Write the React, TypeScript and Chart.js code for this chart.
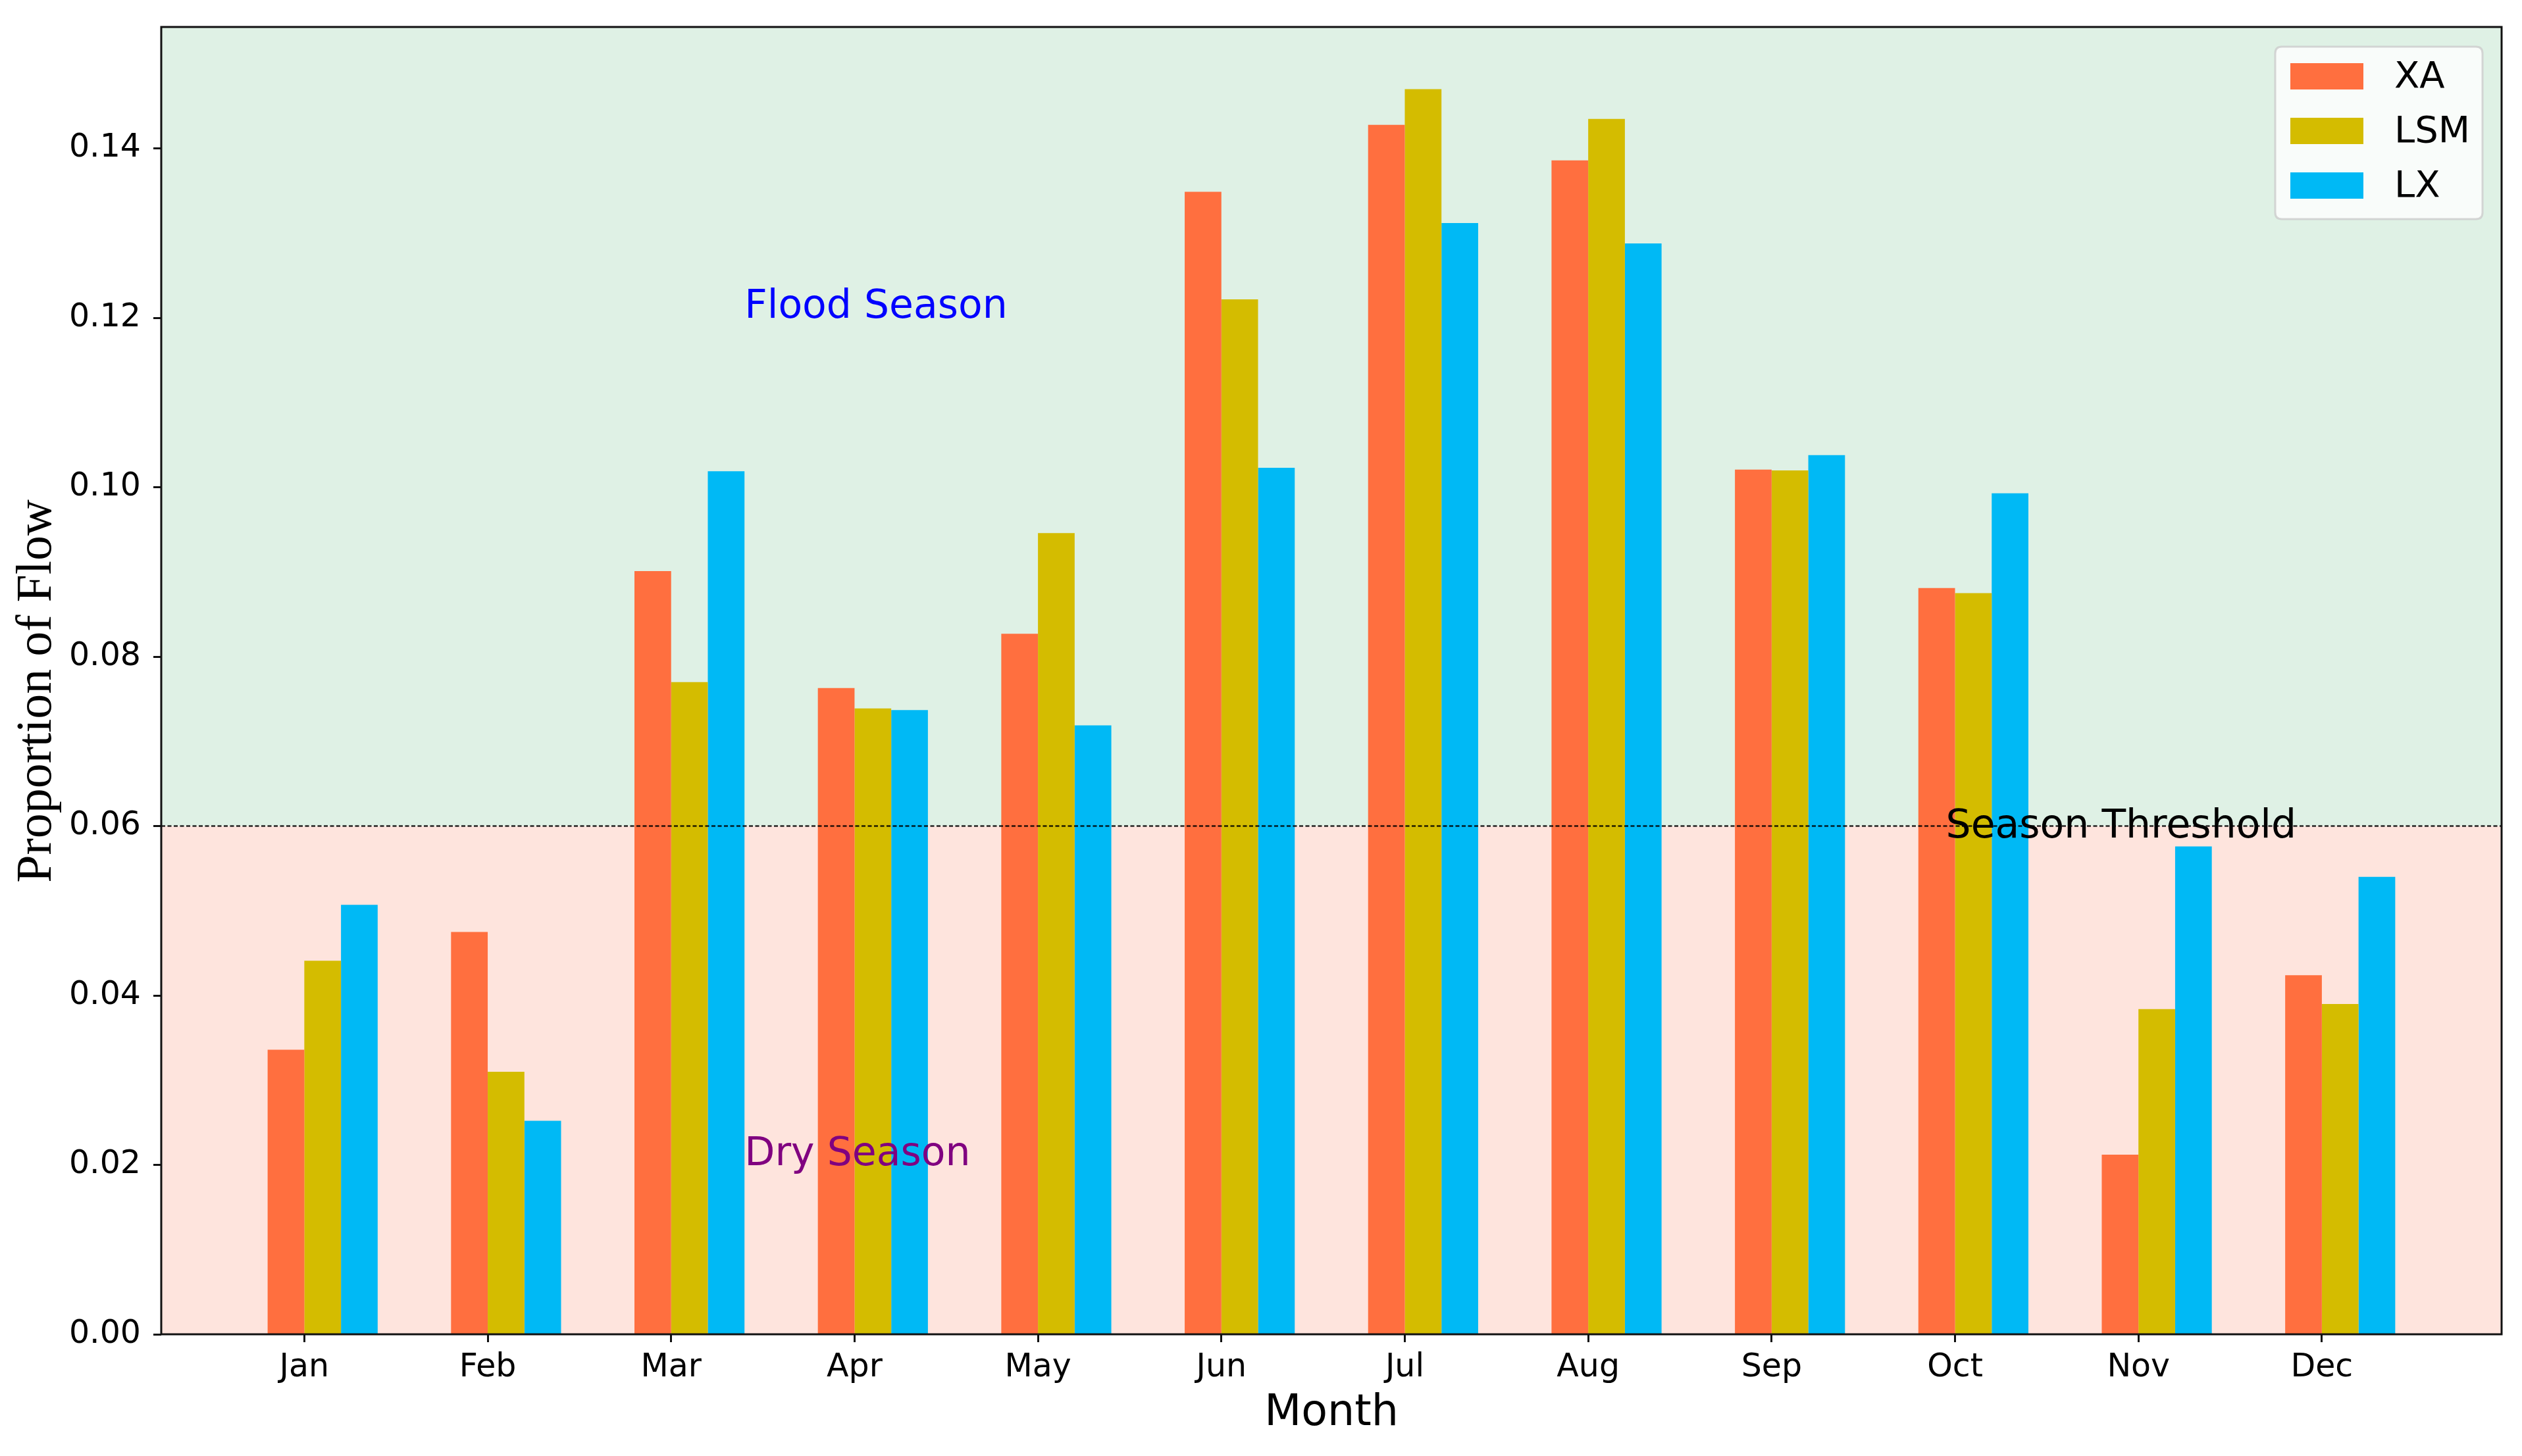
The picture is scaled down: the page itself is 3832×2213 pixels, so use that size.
import React, { useEffect, useRef } from "react";
import { Chart, registerables } from "chart.js";

Chart.register(...registerables);

// ---------------- data ----------------
const MONTHS = ["Jan", "Feb", "Mar", "Apr", "May", "Jun", "Jul", "Aug", "Sep", "Oct", "Nov", "Dec"];
const SERIES_LABELS = ["XA", "LSM", "LX"];
const XA = [0.0336, 0.0475, 0.0901, 0.0763, 0.0827, 0.1349, 0.1428, 0.1386, 0.1021, 0.0881, 0.0212, 0.0424];
const LSM = [0.0441, 0.031, 0.077, 0.0739, 0.0946, 0.1222, 0.147, 0.1435, 0.102, 0.0875, 0.0384, 0.039];
const LX = [0.0507, 0.0252, 0.1019, 0.0737, 0.0719, 0.1023, 0.1312, 0.1288, 0.1038, 0.0993, 0.0576, 0.054];
const Y_TICKS = [0, 0.02, 0.04, 0.06, 0.08, 0.1, 0.12, 0.14];
const THRESHOLD = 0.06;
const BAR_WIDTH = 0.2;
const SERIES_OFFSETS = [-0.1, 0.1, 0.3];
const SERIES_COLORS = ["#FF6F3F", "#D4BC00", "#00B9F5"];
const ANNOTATIONS = [
  { text: "Flood Season", x: 2.4, y: 0.12, color: "#0000FF" },
  { text: "Dry Season", x: 2.4, y: 0.02, color: "#800080" },
];
const THRESHOLD_LABEL = { text: "Season Threshold", x: 8.95, y: 0.06, color: "#000000" };
const X_TITLE = "Month";
const Y_TITLE = "Proportion of Flow";

// ---------------- styles ----------------
const W = 3832;
const H = 2213;
const SANS = '"DejaVu Sans", "Liberation Sans", sans-serif';
const SERIF = '"Liberation Serif", "DejaVu Serif", serif';
const GREEN_BG = "#dff1e5";
const PINK_BG = "#fee4dd";

const decorPlugin = {
  id: "decor",
  beforeDraw(chart: any) {
    const { ctx, chartArea: a, scales } = chart;
    const y = scales.y;
    ctx.save();
    ctx.fillStyle = "#ffffff";
    ctx.fillRect(0, 0, chart.width, chart.height);
    const ty = y.getPixelForValue(THRESHOLD);
    ctx.fillStyle = GREEN_BG;
    ctx.fillRect(a.left, a.top, a.right - a.left, ty - a.top);
    ctx.fillStyle = PINK_BG;
    ctx.fillRect(a.left, ty, a.right - a.left, a.bottom - ty);
    ctx.restore();
  },
  afterDatasetsDraw(chart: any) {
    const { ctx, chartArea: a, scales } = chart;
    const x = scales.x;
    const y = scales.y;
    ctx.save();
    // threshold line
    const ty = y.getPixelForValue(THRESHOLD);
    ctx.strokeStyle = "rgba(0,0,0,0.85)";
    ctx.lineWidth = 2.5;
    ctx.setLineDash([6, 3.5]);
    ctx.beginPath();
    ctx.moveTo(a.left, ty);
    ctx.lineTo(a.right, ty);
    ctx.stroke();
    ctx.setLineDash([]);

    // annotations
    ctx.font = `60px ${SANS}`;
    ctx.textAlign = "left";
    ctx.textBaseline = "alphabetic";
    for (const an of ANNOTATIONS) {
      ctx.fillStyle = an.color;
      ctx.fillText(an.text, x.getPixelForValue(an.x), y.getPixelForValue(an.y));
    }
    ctx.fillStyle = THRESHOLD_LABEL.color;
    ctx.fillText(
      THRESHOLD_LABEL.text,
      x.getPixelForValue(THRESHOLD_LABEL.x),
      y.getPixelForValue(THRESHOLD_LABEL.y) + 17
    );

    // y-axis title
    ctx.save();
    ctx.translate(57, (a.top + a.bottom) / 2 + 16);
    ctx.rotate(-Math.PI / 2);
    ctx.font = `76px ${SERIF}`;
    ctx.fillStyle = "#000";
    ctx.textAlign = "center";
    ctx.textBaseline = "middle";
    ctx.fillText(Y_TITLE, 0, 0);
    ctx.restore();

    // frame
    ctx.strokeStyle = "#111";
    ctx.lineWidth = 3;
    ctx.strokeRect(a.left, a.top, a.right - a.left, a.bottom - a.top);

    // legend
    const boxW = 315;
    const boxH = 262;
    const bx = a.right - 29 - boxW;
    const by = a.top + 30;
    const r = 10;
    ctx.beginPath();
    ctx.moveTo(bx + r, by);
    ctx.lineTo(bx + boxW - r, by);
    ctx.quadraticCurveTo(bx + boxW, by, bx + boxW, by + r);
    ctx.lineTo(bx + boxW, by + boxH - r);
    ctx.quadraticCurveTo(bx + boxW, by + boxH, bx + boxW - r, by + boxH);
    ctx.lineTo(bx + r, by + boxH);
    ctx.quadraticCurveTo(bx, by + boxH, bx, by + boxH - r);
    ctx.lineTo(bx, by + r);
    ctx.quadraticCurveTo(bx, by, bx + r, by);
    ctx.closePath();
    ctx.fillStyle = "rgba(255,255,255,0.8)";
    ctx.fill();
    ctx.strokeStyle = "rgba(204,204,204,0.8)";
    ctx.lineWidth = 3;
    ctx.stroke();

    ctx.font = `56px ${SANS}`;
    ctx.textBaseline = "middle";
    chart.data.datasets.forEach((ds: any, i: number) => {
      const cy = by + 45 + i * 83;
      ctx.fillStyle = ds.backgroundColor;
      ctx.fillRect(bx + 23, cy - 20, 111, 40);
      ctx.fillStyle = "#000";
      ctx.fillText(ds.label, bx + 181, cy + 2);
    });
    ctx.restore();
  },
};

export default function App() {
  const ref = useRef<HTMLCanvasElement>(null);

  useEffect(() => {
    const canvas = ref.current;
    if (!canvas) return;
    const seriesValues = [XA, LSM, LX];
    const allValues = ([] as number[]).concat(...seriesValues);
    const yMax = Math.max(...allValues) * 1.05;
    const barLo = Math.min(...SERIES_OFFSETS) - BAR_WIDTH / 2;
    const barHi = MONTHS.length - 1 + Math.max(...SERIES_OFFSETS) + BAR_WIDTH / 2;
    const margin = (barHi - barLo) * 0.05;

    const datasets = SERIES_LABELS.map((label, s) => ({
      label,
      data: seriesValues[s].map((v, i) => ({ x: i + SERIES_OFFSETS[s], y: v })),
      backgroundColor: SERIES_COLORS[s],
      borderWidth: 0,
      grouped: false,
      barPercentage: 1,
      categoryPercentage: 1,
      inflateAmount: 0,
    }));

    const tickGrid = {
      display: true,
      drawOnChartArea: false,
      drawTicks: true,
      tickLength: 12,
      tickWidth: 3,
      tickColor: "#111",
      offset: false,
    };

    const zeroPadding = (sc: any) => {
      sc.paddingTop = 0;
      sc.paddingBottom = 0;
      sc.paddingLeft = 0;
      sc.paddingRight = 0;
    };

    const chart = new Chart(canvas, {
      type: "bar",
      data: { datasets } as any,
      options: {
        responsive: false,
        animation: false,
        devicePixelRatio: 1,
        events: [],
        layout: { padding: { top: 41, right: 31, left: 0, bottom: 0 } },
        plugins: {
          legend: { display: false },
          tooltip: { enabled: false },
        },
        scales: {
          x: {
            type: "linear",
            offset: false,
            min: barLo - margin,
            max: barHi + margin,
            afterBuildTicks: (sc: any) => {
              sc.ticks = MONTHS.map((_, i) => ({ value: i }));
            },
            afterFit: (sc: any) => {
              sc.height = 185;
              zeroPadding(sc);
            },
            grid: tickGrid,
            border: { display: false },
            ticks: {
              autoSkip: false,
              maxRotation: 0,
              minRotation: 0,
              padding: 10,
              color: "#000",
              font: { family: SANS, size: 49 },
              callback: (v: any) => MONTHS[Math.round(Number(v))] ?? "",
            },
            title: {
              display: true,
              text: X_TITLE,
              color: "#000",
              font: { family: SANS, size: 65 },
              padding: { top: 0, bottom: 25 },
            },
          },
          y: {
            type: "linear",
            min: 0,
            max: yMax,
            afterBuildTicks: (sc: any) => {
              sc.ticks = Y_TICKS.map((v) => ({ value: v }));
            },
            afterFit: (sc: any) => {
              sc.width = 245;
              zeroPadding(sc);
            },
            grid: tickGrid,
            border: { display: false },
            ticks: {
              padding: 19,
              color: "#000",
              font: { family: SANS, size: 49 },
              callback: (v: any) => Number(v).toFixed(2),
            },
            title: { display: false },
          },
        },
      } as any,
      plugins: [decorPlugin],
    });
    return () => chart.destroy();
  }, []);

  return (
    <div style={{ position: "fixed", left: 0, top: 0, width: W, height: H, background: "#fff" }}>
      <canvas ref={ref} width={W} height={H} style={{ display: "block", width: W, height: H }} />
    </div>
  );
}
